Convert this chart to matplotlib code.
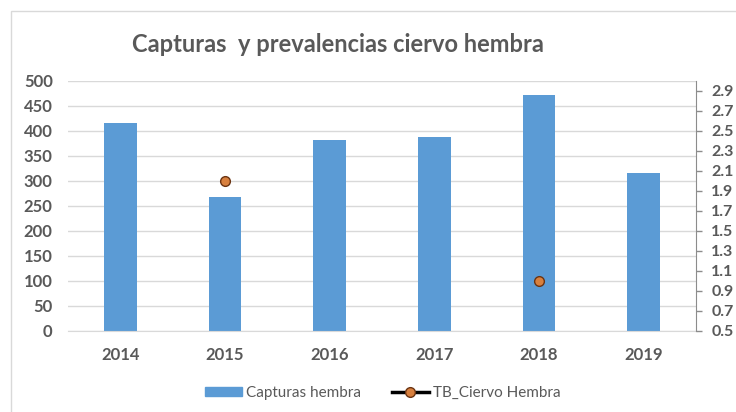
import matplotlib
matplotlib.use("Agg")
import matplotlib.pyplot as plt
from matplotlib.lines import Line2D
from matplotlib.patches import Patch, Rectangle
import numpy as np

plt.rcParams['font.family'] = ['Lato', 'DejaVu Sans']

years = ["2014", "2015", "2016", "2017", "2018", "2019"]
capturas = [415, 268, 381, 388, 471, 316]
prevalencia = [np.nan, 2.0, np.nan, np.nan, 1.0, np.nan]
left_ticks = list(range(0, 501, 50))
right_ticks = [0.5, 0.7, 0.9, 1.1, 1.3, 1.5, 1.7, 1.9, 2.1, 2.3, 2.5, 2.7, 2.9]

text_color = "#595959"
bar_color = "#5b9bd5"
grid_color = "#d9d9d9"

fig = plt.figure(figsize=(7.36, 4.12), dpi=100)
fig.patch.set_facecolor("white")

# chart-area frame
fig.patches.append(Rectangle((11 / 736, -0.1), 1.2, 1 - 11 / 412 + 0.1,
                             transform=fig.transFigure, fill=False,
                             edgecolor=grid_color, linewidth=1.0))

ax = fig.add_axes([68 / 736, 81.5 / 412, 628 / 736, 250 / 412])
x = np.arange(len(years))
ax.bar(x, capturas, width=0.31, color=bar_color, zorder=2)
ax.set_xlim(-0.5, len(years) - 0.5)
ax.set_ylim(0, 500)
ax.set_yticks(left_ticks)
ax.set_xticks(x)
ax.set_xticklabels(years)
ax.grid(axis="y", color=grid_color, linewidth=1.0, zorder=0)
ax.set_axisbelow(True)
for s in ["top", "left", "right"]:
    ax.spines[s].set_visible(False)
ax.spines["bottom"].set_color(grid_color)
ax.tick_params(axis="y", length=0, pad=11, labelsize=12, labelcolor=text_color)
ax.tick_params(axis="x", length=0, pad=12, labelsize=12, labelcolor=text_color)
for lbl in ax.get_xticklabels() + ax.get_yticklabels():
    lbl.set_fontweight("bold")

ax2 = ax.twinx()
ax2.plot(x, prevalencia, linestyle="none", marker="o", markersize=7,
         markerfacecolor="#d8803e", markeredgecolor="#6b3412",
         markeredgewidth=1.0, zorder=3)
ax2.set_ylim(0.5, 3.0)
ax2.set_yticks(right_ticks)
ax2.set_yticklabels([f"{t:.1f}" for t in right_ticks])
for s in ["top", "left", "bottom"]:
    ax2.spines[s].set_visible(False)
ax2.spines["right"].set_color("#8c8c8c")
ax2.tick_params(axis="y", length=4, width=1, color="#8c8c8c", pad=7,
                labelsize=11.5, labelcolor=text_color)
for lbl in ax2.get_yticklabels():
    lbl.set_fontweight("bold")

fig.text(338 / 736, 1 - 45 / 412, "Capturas  y prevalencias ciervo hembra",
         ha="center", va="center", fontsize=17, fontweight="bold",
         color=text_color)

handles = [
    Patch(facecolor=bar_color, edgecolor=bar_color),
    Line2D([0], [0], color="black", linewidth=2.5, marker="o", markersize=7,
           markerfacecolor="#d8803e", markeredgecolor="#6b3412"),
]
fig.legend(handles, ["Capturas hembra", "TB_Ciervo Hembra"],
           loc="center", bbox_to_anchor=(383 / 736, 1 - 393 / 412),
           ncol=2, frameon=False, fontsize=11, labelcolor=text_color,
           handlelength=2.4, handleheight=0.6, columnspacing=2.0,
           handletextpad=0.3)

fig.savefig("out.png", dpi=100)
